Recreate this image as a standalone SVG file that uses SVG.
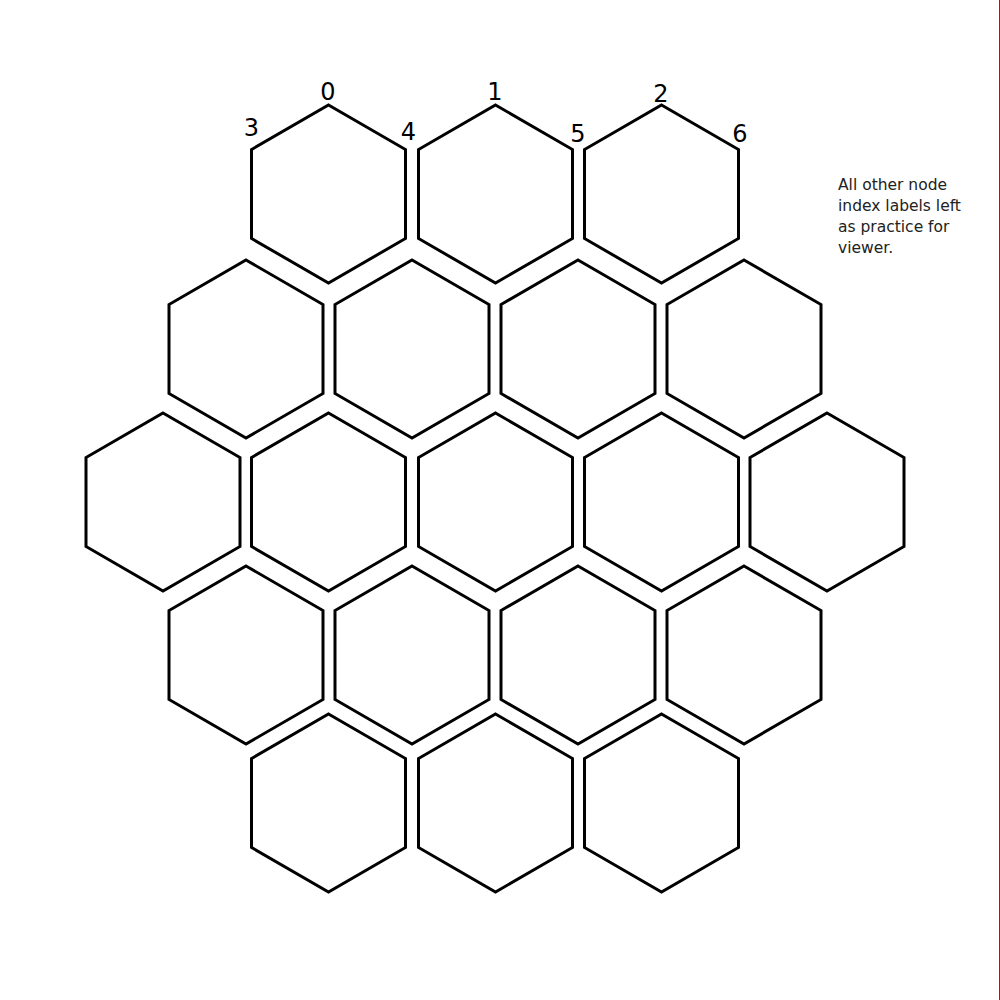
<svg xmlns="http://www.w3.org/2000/svg" width="1000" height="1000" viewBox="0 0 1000 1000">
<defs>
<style>
.hex{fill:#fff;stroke:#000;stroke-width:3;stroke-linejoin:miter}
.lbl{font-family:"DejaVu Sans",sans-serif;font-size:24px;fill:#000;text-anchor:middle}
.note{font-family:"DejaVu Sans",sans-serif;font-size:15.5px;fill:#222}
</style>
<polygon id="h" points="0,-89 77,-44.5 77,44.5 0,89 -77,44.5 -77,-44.5"/>
</defs>
<rect width="1000" height="1000" fill="#fff"/>
<line x1="999.5" y1="0" x2="999.5" y2="1000" stroke="#d00" stroke-width="1"/>
<g id="row1">
<g id="node0"><use href="#h" class="hex" x="328.5" y="194"/></g>
<g id="node1"><use href="#h" class="hex" x="495.5" y="194"/></g>
<g id="node2"><use href="#h" class="hex" x="661.5" y="194"/></g>
</g>
<g id="row2">
<g id="node-r2-1"><use href="#h" class="hex" x="246" y="349"/></g>
<g id="node-r2-2"><use href="#h" class="hex" x="412" y="349"/></g>
<g id="node-r2-3"><use href="#h" class="hex" x="578" y="349"/></g>
<g id="node-r2-4"><use href="#h" class="hex" x="744" y="349"/></g>
</g>
<g id="row3">
<g id="node-r3-1"><use href="#h" class="hex" x="163" y="502"/></g>
<g id="node-r3-2"><use href="#h" class="hex" x="328.5" y="502"/></g>
<g id="node-r3-3"><use href="#h" class="hex" x="495.5" y="502"/></g>
<g id="node-r3-4"><use href="#h" class="hex" x="661.5" y="502"/></g>
<g id="node-r3-5"><use href="#h" class="hex" x="827" y="502"/></g>
</g>
<g id="row4">
<g id="node-r4-1"><use href="#h" class="hex" x="246" y="655"/></g>
<g id="node-r4-2"><use href="#h" class="hex" x="412" y="655"/></g>
<g id="node-r4-3"><use href="#h" class="hex" x="578" y="655"/></g>
<g id="node-r4-4"><use href="#h" class="hex" x="744" y="655"/></g>
</g>
<g id="row5">
<g id="node-r5-1"><use href="#h" class="hex" x="328.5" y="803"/></g>
<g id="node-r5-2"><use href="#h" class="hex" x="495.5" y="803"/></g>
<g id="node-r5-3"><use href="#h" class="hex" x="661.5" y="803"/></g>
</g>
<g id="connectors"></g>
<g id="labels">
<text class="lbl" x="328" y="100">0</text>
<text class="lbl" x="495" y="100">1</text>
<text class="lbl" x="661" y="102">2</text>
<text class="lbl" x="251.5" y="136">3</text>
<text class="lbl" x="408.5" y="140">4</text>
<text class="lbl" x="578" y="141.5">5</text>
<text class="lbl" x="740" y="141.5">6</text>
</g>
<g id="note">
<text class="note" x="838" y="190">All other node</text>
<text class="note" x="838" y="211">index labels left</text>
<text class="note" x="838" y="232">as practice for</text>
<text class="note" x="838" y="253">viewer.</text>
</g>
</svg>
